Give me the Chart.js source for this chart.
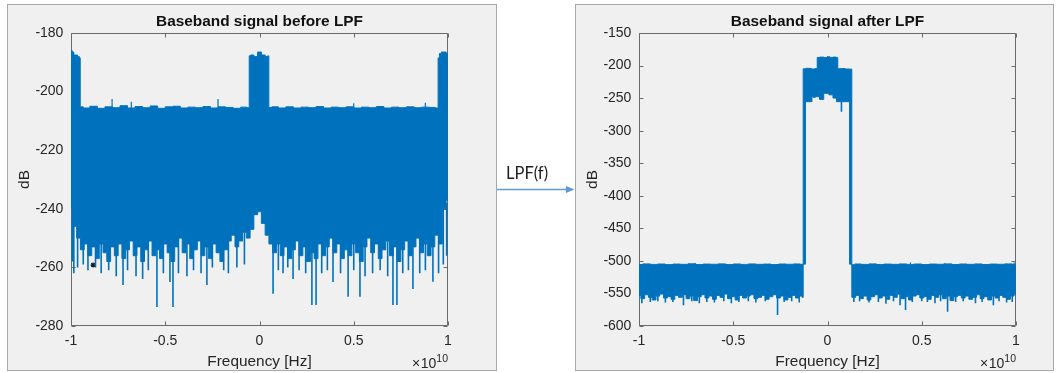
<!DOCTYPE html>
<html>
<head>
<meta charset="utf-8">
<script src="https://cdn.jsdelivr.net/npm/chart.js@4.4.1/dist/chart.umd.min.js"></script>
<style>
  html, body { margin: 0; padding: 0; background: #fff; }
  #stage { position: relative; width: 1057px; height: 373px; overflow: hidden; }
  .fig { position: absolute; top: 4px; height: 367px; background: #f0f0f0; border: 1px solid #a8a8a8; box-sizing: border-box; }
  .fig canvas { position: absolute; left: 0; top: 0; }
  #link { position: absolute; left: 0; top: 0; }
</style>
</head>
<body>
<div id="stage">
  <div class="fig" style="left:7px;width:490px"><canvas id="before" width="488" height="365"></canvas></div>
  <svg id="link" width="1057" height="373">
    <text x="506" y="178.5" font-family="Lato, 'Open Sans', sans-serif" font-size="16.5" fill="#1e1e1e">LPF(f)</text>
    <line x1="497" y1="189.5" x2="567" y2="189.5" stroke="#5B9BD5" stroke-width="1.5"/>
    <polygon points="566,186 574.5,189.5 566,193" fill="#5B9BD5"/>
  </svg>
  <div class="fig" style="left:575px;width:479px"><canvas id="after" width="477" height="365"></canvas></div>
</div>
<script>
// ---------- data (frequency in units of 10^10 Hz, level in dB) ----------
const FREQ_EXP = 10;
const xTickValues = [-1, -0.5, 0, 0.5, 1];
const beforeYTicks = [-280, -260, -240, -220, -200, -180];
const afterYTicks = [-600, -550, -500, -450, -400, -350, -300, -250, -200, -150];

// Spectrum before the low-pass filter: upper edge of the trace
const beforeUpperFreq = [
  -1.000, -0.997, -0.990, -0.980, -0.970, -0.960, -0.952, -0.950,
  -0.92, -0.88, -0.84, -0.80, -0.76, -0.72, -0.68, -0.64, -0.60, -0.56, -0.52,
  -0.48, -0.44, -0.40, -0.36, -0.32, -0.28, -0.24, -0.20, -0.16, -0.12, -0.08,
  -0.056, -0.053, -0.040, -0.020, 0.000, 0.020, 0.040, 0.048, 0.051,
  0.08, 0.12, 0.16, 0.20, 0.24, 0.28, 0.32, 0.36, 0.40, 0.44, 0.48,
  0.52, 0.56, 0.60, 0.64, 0.68, 0.72, 0.76, 0.80, 0.84, 0.88, 0.92,
  0.946, 0.949, 0.960, 0.970, 0.985, 0.995, 1.000
];
const beforeUpper = [
  -191, -186, -186.5, -187.5, -187.5, -188, -188.5, -205.2,
  -205.6, -205, -205.7, -205.2, -205.5, -204.8, -205.6, -205.1, -205.5, -204.9, -205.7,
  -205.2, -205, -205.6, -205.3, -205.5, -205.1, -205.6, -205.2, -205.4, -205.7, -205.3,
  -205.5, -187.8, -187.5, -188, -186.5, -187.5, -188, -187.8, -205.4,
  -205.2, -205.6, -205.2, -205.6, -205.3, -205.5, -205.1, -205.6, -205.3, -205.5, -205.2,
  -205.6, -205.3, -205.5, -205.1, -205.6, -205.3, -205.5, -205.2, -205.5, -205.3, -205.4,
  -205.6, -188.5, -187, -186.5, -186.5, -187, -188
];
// lower edge of the trace, one value per 0.02 bin from -1 to 1
const beforeLowerStart = -1, beforeLowerStep = 0.02;
const beforeLower = [
  -240, -246, -250, -254, -252, -256, -253, -257, -252, -255,
  -258, -253, -256, -252, -257, -254, -251, -256, -253, -258,
  -254, -251, -256, -254, -257, -252, -255, -258, -253, -250,
  -255, -252, -257, -254, -251, -256, -253, -257, -252, -255,
  -258, -254, -251, -249, -253, -251, -248, -250, -247, -242,
  -241,
  -245, -249, -252, -255, -252, -256, -253, -257, -254, -251,
  -256, -253, -258, -255, -257, -252, -256, -253, -250, -255,
  -252, -257, -254, -256, -252, -255, -258, -253, -250, -255,
  -252, -257, -254, -251, -256, -253, -258, -254, -251, -256,
  -253, -250, -255, -252, -256, -253, -249, -252, -240, -237
];
// deep downward spikes
const beforeSpikeFreq = [
  -0.993, -0.985, -0.965, -0.935, -0.91, -0.87, -0.84, -0.80, -0.76, -0.724,
  -0.70, -0.655, -0.62, -0.59, -0.544, -0.51, -0.475, -0.459, -0.43, -0.385,
  -0.35, -0.31, -0.279, -0.25, -0.19, -0.165, -0.12, -0.08, 0.072, 0.10,
  0.125, 0.15, 0.178, 0.21, 0.245, 0.278, 0.30, 0.33, 0.36, 0.39,
  0.43, 0.47, 0.50, 0.533, 0.56, 0.60, 0.64, 0.68, 0.708, 0.729,
  0.76, 0.79, 0.814, 0.85, 0.88, 0.92, 0.95, 0.975, 0.993
];
const beforeSpikeLow = [
  -258, -262, -260, -259, -261, -260, -262, -261, -263, -266,
  -261, -263, -264, -261, -273.5, -262, -265, -273.5, -262, -263,
  -261, -262, -266, -260, -261, -262, -260, -259, -269, -261,
  -262, -260, -264, -261, -262, -272.8, -272.8, -262, -261, -265,
  -262, -270, -261, -270, -263, -262, -261, -263, -272.8, -272.8,
  -262, -261, -267.4, -262, -261, -264.9, -262, -259, -256
];
// small upward bumps on the top edge
const beforeBumpFreq = [-0.782, -0.68, -0.22, 0.50, 0.88];
const beforeBumpHigh = [-202.5, -203.5, -202.5, -204, -203.8];
// data-tip marker
const beforeMarkerFreq = [-0.883];
const beforeMarkerLevel = [-259.2];

// Spectrum after the low-pass filter: upper edge of the trace
const afterUpperFreq = [
  -1.00, -0.96, -0.92, -0.88, -0.84, -0.80, -0.76, -0.72, -0.68, -0.64, -0.60, -0.56,
  -0.52, -0.48, -0.44, -0.40, -0.36, -0.32, -0.28, -0.24, -0.20, -0.16, -0.13,
  -0.128, -0.10, -0.075, -0.056, -0.053, -0.03, -0.01, 0.005, 0.02, 0.04, 0.053,
  0.056, 0.08, 0.105, 0.128,
  0.130, 0.16, 0.20, 0.24, 0.28, 0.32, 0.36, 0.40, 0.44, 0.48, 0.52, 0.56,
  0.60, 0.64, 0.68, 0.72, 0.76, 0.80, 0.84, 0.88, 0.92, 0.96, 1.00
];
const afterUpper = [
  -505.5, -504.6, -505.4, -504.8, -505.7, -504.9, -505.3, -504.5, -505.6, -504.9, -505.2, -504.6,
  -505.5, -504.8, -505.4, -504.7, -505.3, -504.9, -505.6, -504.8, -505.2, -504.7, -505.3,
  -205, -204.3, -205.2, -204.6, -187.5, -187, -187.8, -186.4, -187.5, -187, -187.8,
  -205, -204.5, -205.3, -205.5,
  -506, -504.8, -505.4, -504.6, -505.5, -504.9, -505.3, -504.7, -505.4, -504.8, -505.6, -504.9,
  -505.2, -504.6, -505.5, -504.8, -505.3, -504.7, -505.5, -504.9, -505.2, -504.6, -505.3
];
// lower edge: stop band (0.02 bins), pass band with its two edges, stop band
const afterStopLeftStart = -1, afterStopRightStart = 0.14, afterStopStep = 0.02;
const afterStopLowLeft = [
  -553, -558, -552, -556, -560, -554, -551, -557, -555, -559,
  -553, -556, -552, -558, -554, -561, -555, -552, -557, -554,
  -559, -553, -556, -551, -558, -555, -560, -553, -557, -554,
  -552, -558, -556, -553, -559, -555, -552, -557, -554, -560,
  -556, -553, -557, -554
];
const afterPassLowFreq = [
  -0.130, -0.128, -0.118, -0.116, -0.085, -0.080, -0.070, -0.060, -0.045, -0.040,
  -0.022, -0.018, -0.005, 0.004, 0.010, 0.026, 0.032, 0.045, 0.050, 0.090,
  0.116, 0.118, 0.128, 0.130
];
const afterPassLow = [
  -556, -505, -505, -255.5, -255.5, -247.8, -249, -247.8, -247.8, -252,
  -252, -242.6, -243, -242.6, -245, -245, -250, -250, -255.5, -255.5,
  -255.5, -505, -505, -556
];
const afterStopLowRight = [
  -556, -553, -558, -554, -560, -555, -552, -557, -554, -559,
  -553, -556, -551, -558, -555, -560, -554, -552, -557, -555,
  -559, -553, -556, -552, -558, -554, -561, -555, -553, -557,
  -554, -559, -556, -552, -558, -555, -560, -554, -557, -553,
  -556, -559, -554, -551
];
const afterSpikeFreq = [
  -0.985, -0.94, -0.90, -0.86, -0.82, -0.764, -0.72, -0.68, -0.64, -0.60,
  -0.55, -0.51, -0.47, -0.42, -0.38, -0.33, -0.265, -0.23, -0.19, -0.15,
  0.14, 0.17, 0.22, 0.27, 0.31, 0.35, 0.385, 0.414, 0.45, 0.50,
  0.53, 0.57, 0.60, 0.637, 0.68, 0.72, 0.785, 0.82, 0.88, 0.91,
  0.95, 0.98
];
const afterSpikeLow = [
  -565, -563, -562, -564, -563, -568, -562, -565, -563, -564,
  -562, -565, -563, -562, -564, -562, -583, -563, -562, -564,
  -563, -562, -564, -563, -566, -562, -568, -575.5, -563, -562,
  -563, -565, -562, -578, -563, -562, -565, -563, -568, -562,
  -564, -563
];
const afterPassSpikeFreq = [0.074];
const afterPassSpikeLow = [-270.8];
const afterBumpFreq = [-0.70, 0.44, 0.62, 0.99];
const afterBumpHigh = [-503.5, -502.5, -503.5, -502.5];

// ---------- helpers ----------
const BLUE = '#0072BD';
const TEXT = '#262626';
const AXIS = '#6a6a6a';
const FAMILY = '"Liberation Sans", Arial, Helvetica, sans-serif';
const TICK_LEN = 4;

const pts = (xs, ys) => xs.map((x, i) => ({ x, y: ys[i] }));
const bins = (start, step, ys) => ys.map((y, i) => ({ x: +(start + i * step).toFixed(4), y }));
const strokes = (xs, from, ys) => xs.flatMap((x, i) => [{ x, y: from }, { x, y: ys[i] }, { x, y: null }]);

Chart.defaults.font.family = FAMILY;
Chart.defaults.color = TEXT;

// Box around the axes with inward tick marks on all four sides, plus the x exponent
const matlabAxes = {
  id: 'matlabAxes',
  beforeDatasetsDraw(chart) {
    const { ctx, chartArea: a, scales: { x, y } } = chart;
    const L = Math.round(a.left) + 0.5, R = Math.round(a.right) - 0.5;
    const T = Math.round(a.top) + 0.5, B = Math.round(a.bottom) - 0.5;
    ctx.save();
    ctx.strokeStyle = AXIS;
    ctx.lineWidth = 1;
    ctx.beginPath();
    ctx.rect(L, T, R - L, B - T);
    x.ticks.forEach(t => {
      const p = Math.round(x.getPixelForValue(t.value)) + 0.5;
      ctx.moveTo(p, B); ctx.lineTo(p, B - TICK_LEN);
      ctx.moveTo(p, T); ctx.lineTo(p, T + TICK_LEN);
    });
    y.ticks.forEach(t => {
      const p = Math.round(y.getPixelForValue(t.value)) + 0.5;
      ctx.moveTo(L, p); ctx.lineTo(L + TICK_LEN, p);
      ctx.moveTo(R, p); ctx.lineTo(R - TICK_LEN, p);
    });
    ctx.stroke();
    ctx.restore();
  },
  afterDraw(chart) {
    const { ctx, chartArea: a } = chart;
    const sup = String(FREQ_EXP);
    const supFont = '10.5px ' + FAMILY, baseFont = '14px ' + FAMILY;
    ctx.save();
    ctx.fillStyle = TEXT;
    ctx.textAlign = 'left';
    ctx.textBaseline = 'alphabetic';
    ctx.font = supFont;
    const wSup = ctx.measureText(sup).width;
    ctx.font = baseFont;
    const wBase = ctx.measureText('10').width;
    const wTimes = ctx.measureText('\u00d7').width;
    const yBase = a.bottom + 42;
    const xr = a.right;
    ctx.fillText('10', xr - wSup - wBase, yBase);
    ctx.fillText('\u00d7', xr - wSup - wBase - wTimes - 0.5, yBase);
    ctx.font = supFont;
    ctx.fillText(sup, xr - wSup, yBase - 6);
    ctx.restore();
  }
};

function drawPanel(id, cfg) {
  const band = { borderColor: BLUE, borderWidth: 1, pointRadius: 0, stepped: 'middle' };
  const thin = { borderColor: BLUE, borderWidth: 1.6, pointRadius: 0, fill: false, spanGaps: false };
  const datasets = [
    Object.assign({ data: cfg.upper, fill: '+1', backgroundColor: BLUE }, band),
    Object.assign({ data: cfg.lower, fill: false }, band),
    Object.assign({ data: cfg.spikes }, thin),
    Object.assign({ data: cfg.bumps }, thin, { borderWidth: 1.2 })
  ];
  if (cfg.marker) {
    datasets.push({ data: cfg.marker, showLine: false, pointStyle: 'star', pointRadius: 2.5,
      borderColor: '#1a1a1a', backgroundColor: '#1a1a1a', borderWidth: 1.2 });
  }
  return new Chart(document.getElementById(id), {
    type: 'line',
    data: { datasets },
    options: {
      responsive: false,
      animation: false,
      devicePixelRatio: 1,
      events: [],
      layout: { padding: { left: 0, right: cfg.padRight, top: 0, bottom: 0 } },
      plugins: {
        legend: { display: false },
        tooltip: { enabled: false },
        title: {
          display: true, text: cfg.title, fullSize: false, color: '#111',
          font: { size: 15.4, weight: 'bold', lineHeight: 1.2 },
          padding: { top: 7.3, bottom: 2.22 }
        }
      },
      scales: {
        x: {
          type: 'linear', min: -1, max: 1,
          grid: { display: false, drawTicks: false },
          border: { display: false },
          afterBuildTicks: s => { s.ticks = xTickValues.map(v => ({ value: v })); },
          ticks: { padding: 6.6, color: TEXT, font: { size: 14 }, maxRotation: 0, autoSkip: false,
            callback: v => String(v) },
          title: { display: true, text: 'Frequency [Hz]', color: TEXT,
            font: { size: 15.4, lineHeight: 1.1 }, padding: 0 },
          afterFit: s => { s.height = 44; }
        },
        y: {
          type: 'linear', min: cfg.yTicks[0], max: cfg.yTicks[cfg.yTicks.length - 1],
          grid: { display: false, drawTicks: false },
          border: { display: false },
          afterBuildTicks: s => { s.ticks = cfg.yTicks.map(v => ({ value: v })); },
          ticks: { padding: 7.6, color: TEXT, font: { size: 14 }, autoSkip: false,
            callback: v => String(v) },
          title: { display: true, text: 'dB', color: TEXT,
            font: { size: 15.4, lineHeight: 1 }, padding: { top: 8.8, bottom: 0 } },
          afterFit: s => { s.width = 63; }
        }
      }
    },
    plugins: [matlabAxes]
  });
}

drawPanel('before', {
  title: 'Baseband signal before LPF',
  yTicks: beforeYTicks,
  padRight: 48,
  upper: pts(beforeUpperFreq, beforeUpper),
  lower: bins(beforeLowerStart, beforeLowerStep, beforeLower),
  spikes: strokes(beforeSpikeFreq, -238, beforeSpikeLow),
  bumps: strokes(beforeBumpFreq, -206, beforeBumpHigh),
  marker: pts(beforeMarkerFreq, beforeMarkerLevel)
});

drawPanel('after', {
  title: 'Baseband signal after LPF',
  yTicks: afterYTicks,
  padRight: 37,
  upper: pts(afterUpperFreq, afterUpper),
  lower: [
    ...bins(afterStopLeftStart, afterStopStep, afterStopLowLeft),
    ...pts(afterPassLowFreq, afterPassLow),
    ...bins(afterStopRightStart, afterStopStep, afterStopLowRight)
  ],
  spikes: [
    ...strokes(afterSpikeFreq, -540, afterSpikeLow),
    ...strokes(afterPassSpikeFreq, -250, afterPassSpikeLow)
  ],
  bumps: strokes(afterBumpFreq, -506, afterBumpHigh)
});
</script>
</body>
</html>
